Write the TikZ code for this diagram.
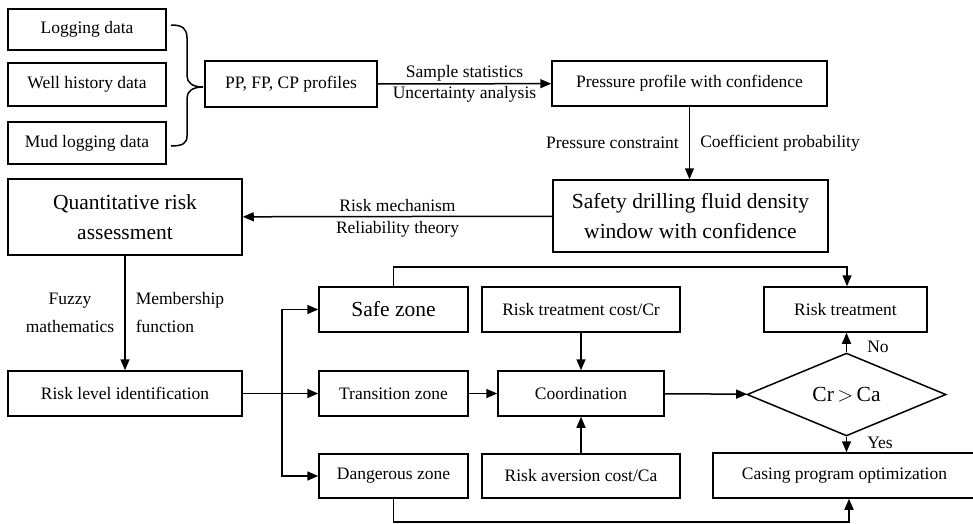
\documentclass[tikz,border=0pt]{standalone}
\usepackage{fontspec}
\setmainfont{Liberation Serif}
\usetikzlibrary{arrows.meta,shapes.geometric}
\begin{document}
\begin{tikzpicture}[x=1pt,y=-1pt,
  every node/.style={font=\fontsize{17.5}{21}\selectfont},
  box/.style={draw,rectangle,line width=1.5pt,inner sep=0pt,align=center},
  bigtxt/.style={font=\fontsize{21.5}{30}\selectfont},
  lbl/.style={inner sep=2pt},
  arr/.style={line width=1.5pt,-{Triangle[length=11pt,width=9pt]}},
  ln/.style={line width=1.5pt}]
\useasboundingbox (0,0) rectangle (973,523);
% top-left inputs
\node[box,minimum width=158pt,minimum height=41pt] (log) at (87,29.5) {Logging data};
\node[box,minimum width=158pt,minimum height=43pt] (well) at (87,84.5) {Well history data};
\node[box,minimum width=158pt,minimum height=42pt] (mud) at (87,143) {Mud logging data};
\node[box,minimum width=172pt,minimum height=46pt] (pp) at (291,84) {PP, FP, CP profiles};
\node[box,minimum width=275pt,minimum height=45pt] (ppc) at (689.5,83.5) {Pressure profile with confidence};
\node[box,bigtxt,minimum width=275pt,minimum height=72pt] (sdf) at (690.5,216) {Safety drilling fluid density\\window with confidence};
\node[box,bigtxt,minimum width=234pt,minimum height=76pt] (qra) at (125,217) {Quantitative risk\\assessment};
\node[box,minimum width=234pt,minimum height=45pt] (rli) at (125,393.5) {Risk level identification};
% zones
\node[box,bigtxt,minimum width=149pt,minimum height=45pt] (safe) at (393.5,309.5) {Safe zone};
\node[box,minimum width=149pt,minimum height=45pt] (trans) at (393.5,393.5) {Transition zone};
\node[box,minimum width=149pt,minimum height=44pt] (dang) at (393.5,476) {Dangerous zone};
\node[box,minimum width=198pt,minimum height=45pt] (rtc) at (581,309.5) {Risk treatment cost/Cr};
\node[box,minimum width=166pt,minimum height=45pt] (coord) at (581,393.5) {Coordination};
\node[box,minimum width=198pt,minimum height=44pt] (rac) at (581,476) {Risk aversion cost/Ca};
\node[box,minimum width=163pt,minimum height=45pt] (rt) at (845.5,309.5) {Risk treatment};
\node[draw,diamond,line width=1.5pt,inner sep=0pt,minimum width=199pt,minimum height=75pt,bigtxt] (dia) at (846.5,394.5) {Cr$\,>\,$Ca};
\node[box,minimum width=263pt,minimum height=45pt] (cas) at (844.5,475.5) {Casing program optimization};
% brace
\draw[ln] (171,25) .. controls (183,25) and (187,29) .. (187,38) -- (187,76)
  .. controls (187,83) and (193,87) .. (203,87)
  .. controls (193,87) and (187,91) .. (187,98) -- (187,136)
  .. controls (187,143) and (183,146) .. (171,146);
% connectors
\draw[arr] (pp) -- node[lbl,above]{Sample statistics} node[lbl,below]{Uncertainty analysis} (ppc);
\draw[arr] (ppc) -- node[lbl,left=8pt]{Pressure constraint} node[lbl,right=8pt]{Coefficient probability} (sdf.north -| ppc.south);
\draw[arr] (sdf) -- node[lbl,above=2pt]{Risk mechanism} node[lbl,below=2pt]{Reliability theory} (qra);
\draw[arr] (qra) -- node[lbl,left=8pt,align=center,font=\fontsize{17.5}{28}\selectfont]{Fuzzy\\mathematics} node[lbl,right=8pt,align=left,font=\fontsize{17.5}{28}\selectfont]{Membership\\function} (rli);
\coordinate (trunk) at (282,393.5);
\draw[arr] (rli) -- (trans);
\draw[arr] (trunk) |- (safe);
\draw[arr] (trunk) |- (dang);
\draw[arr] (trans) -- (coord);
\draw[arr] (rtc) -- (coord);
\draw[arr] (rac) -- (coord);
\draw[arr] (coord) -- (dia);
\coordinate (topc) at (847,267);
\draw[arr] (safe.north) |- (topc) -- (rt.north -| topc);
\draw[arr] (dia.north) -- node[lbl,right=18pt,pos=0.3]{No} (rt.south -| dia.north);
\draw[arr] (dia.south) -- node[lbl,right=18pt,pos=0.4]{Yes} (cas.north -| dia.south);
\coordinate (botc) at (849,522);
\draw[arr] (dang.south) |- (botc) -- (cas.south -| botc);
\end{tikzpicture}
\end{document}
